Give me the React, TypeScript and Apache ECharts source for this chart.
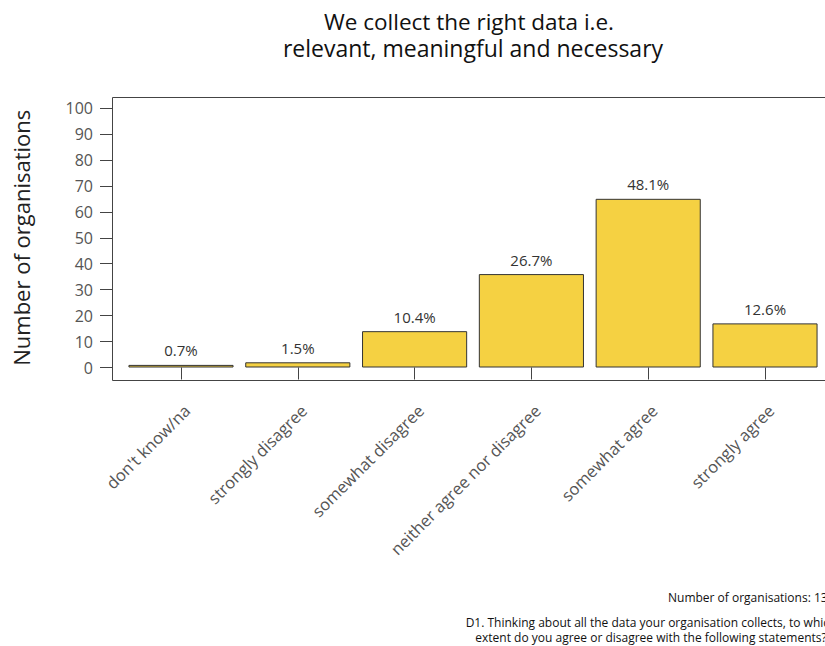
import React, { useEffect, useRef } from "react";
import * as echarts from "echarts";

const categories = [
  "don't know/na",
  "strongly disagree",
  "somewhat disagree",
  "neither agree nor disagree",
  "somewhat agree",
  "strongly agree",
];
const counts = [1, 2, 14, 36, 65, 17];
const yTicks = { min: 0, max: 100, interval: 10 };
const titleLines = ["We collect the right data i.e.", "relevant, meaningful and necessary"];
const yAxisTitle = "Number of organisations";
const footnoteLines = [
  "D1. Thinking about all the data your organisation collects, to which",
  "extent do you agree or disagree with the following statements?",
];

const FONT = "'Open Sans', 'Noto Sans', sans-serif";

export default function App() {
  const ref = useRef<HTMLDivElement>(null);
  useEffect(() => {
    document.body.style.margin = "0";
    const chart = echarts.init(ref.current!, null, { renderer: "svg" });
    const total = counts.reduce((a, b) => a + b, 0);
    chart.setOption({
      animation: false,
      textStyle: { fontFamily: FONT },
      grid: [
        { left: 122.6, right: 1.6, top: 108, bottom: 278.5 },
        { left: 112, right: 1.6, top: 108, bottom: 278.5 },
      ],
      xAxis: [
        {
          type: "category",
          gridIndex: 0,
          data: categories,
          offset: 13,
          axisLine: { show: false },
          axisTick: { show: true, alignWithLabel: true, length: 12, lineStyle: { color: "#444" } },
          axisLabel: {
            rotate: 45,
            margin: 21,
            fontSize: 16.5,
            color: "#555",
            fontFamily: FONT,
            interval: 0,
            verticalAlign: "top",
          },
        },
        { type: "value", gridIndex: 1, show: false, min: 0, max: 1 },
      ],
      yAxis: [
        {
          type: "value",
          gridIndex: 0,
          show: false,
          min: yTicks.min,
          max: yTicks.max,
          interval: yTicks.interval,
        },
        {
          type: "value",
          gridIndex: 1,
          min: yTicks.min,
          max: yTicks.max,
          interval: yTicks.interval,
          axisLine: { show: false },
          axisTick: { show: true, length: 12, lineStyle: { color: "#444" } },
          axisLabel: { fontSize: 16, color: "#555", margin: 19, fontFamily: FONT },
          splitLine: { show: false },
          name: yAxisTitle,
          nameLocation: "middle",
          nameGap: 80,
          nameTextStyle: { fontSize: 22, color: "#222", fontFamily: FONT },
        },
      ],
      series: [
        {
          type: "bar",
          xAxisIndex: 0,
          yAxisIndex: 0,
          data: counts,
          barWidth: "90%",
          itemStyle: { color: "#F5D142", borderColor: "#333", borderWidth: 1 },
          label: {
            show: true,
            position: "top",
            distance: 7,
            fontSize: 15,
            color: "#333",
            fontFamily: FONT,
            formatter: (p: any) => ((p.value / total) * 100).toFixed(1) + "%",
          },
        },
      ],
      graphic: [
        {
          type: "rect",
          silent: true,
          z: 10,
          shape: { x: 112.5, y: 97.5, width: 760, height: 283 },
          style: { fill: "none", stroke: "#444", lineWidth: 1 },
        },
        {
          type: "text",
          style: {
            x: 469,
            y: 21,
            text: titleLines[0],
            fontSize: 22.5,
            lineHeight: 26,
            fill: "#111",
            fontFamily: FONT,
            align: "center",
            verticalAlign: "middle",
          },
        },
        {
          type: "text",
          style: {
            x: 473,
            y: 48,
            text: titleLines[1],
            fontSize: 23,
            lineHeight: 26,
            fill: "#111",
            fontFamily: FONT,
            align: "center",
            verticalAlign: "middle",
          },
        },
        {
          type: "text",
          style: {
            x: 668,
            y: 597,
            text: "Number of organisations: " + total,
            fontSize: 12,
            lineHeight: 14,
            fill: "#111",
            fontFamily: FONT,
            align: "left",
            verticalAlign: "middle",
          },
        },
        {
          type: "text",
          style: {
            x: 651,
            y: 622,
            text: footnoteLines[0],
            fontSize: 12,
            lineHeight: 14,
            fill: "#111",
            fontFamily: FONT,
            align: "center",
            verticalAlign: "middle",
          },
        },
        {
          type: "text",
          style: {
            x: 651,
            y: 637,
            text: footnoteLines[1],
            fontSize: 12,
            lineHeight: 14,
            fill: "#111",
            fontFamily: FONT,
            align: "center",
            verticalAlign: "middle",
          },
        },
      ],
    });
    return () => chart.dispose();
  }, []);
  return <div ref={ref} style={{ width: 825, height: 646 }} />;
}
